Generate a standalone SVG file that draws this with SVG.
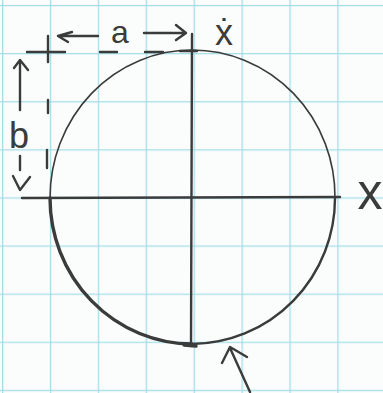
<svg xmlns="http://www.w3.org/2000/svg" width="383" height="393" viewBox="0 0 383 393">
<defs>
<pattern id="grid" x="2" y="5" width="47.9" height="48.1" patternUnits="userSpaceOnUse">
<path d="M0 0H47.9M0 0V48.1" fill="none" stroke="#a3dde9" stroke-width="2.6"/>
</pattern>
</defs>
<style>
.ink{fill:none;stroke:#3a3c3c;stroke-linecap:round;stroke-linejoin:round}
.thin{stroke-width:1.6}
.med{stroke-width:2.4}
.thick{stroke-width:3.4}
.lbl{font-family:"Liberation Sans",Arial,sans-serif;fill:#3a3c3c}
</style>
<rect width="383" height="393" fill="#fbfdfd"/>
<rect width="383" height="393" fill="url(#grid)"/>
<g id="circle">
<path class="ink thin" d="M192 50 A143 147 0 0 1 335 198"/>
<path class="ink med" d="M335 198 A144 146 0 0 1 192 344"/>
<path class="ink thick" d="M192 344 A143 146 0 0 1 50 198"/>
<path class="ink thin" d="M50 198 A142 148 0 0 1 192 50"/>
</g>
<g id="axes">
<path class="ink med" d="M22 198 L340 197"/>
<path class="ink med" d="M192 34 L191 346"/>
<path class="ink thick" d="M184 345 L196 346"/>
</g>
<g id="construction">
<path class="ink med" d="M27 52 H65 M100 52 H117 M145 52 H163"/>
<path class="ink med" d="M48 36 V62 M48 100 V113 M47 150 V168"/>
<path class="ink med" d="M180 51 H197"/>
</g>
<g id="dim-a">
<path class="ink med" d="M72 32 L58 36 L68 42 M60 36 H98"/>
<path class="ink med" d="M144 33 H184 M176 25 L186 33 L176 40"/>
<text class="lbl" x="120" y="43" font-size="32" text-anchor="middle">a</text>
</g>
<g id="dim-b">
<path class="ink med" d="M14 68 L20 60 L28 70 M20 62 V110"/>
<path class="ink med" d="M20 156 V170 M13 176 L20 190 L30 177"/>
<text class="lbl" x="19" y="148" font-size="36" text-anchor="middle">b</text>
</g>
<g id="labels">
<text class="lbl" x="224" y="45" font-size="36" text-anchor="middle">ẋ</text>
<text class="lbl" x="370" y="209" font-size="50" text-anchor="middle">x</text>
</g>
<g id="pointer">
<path class="ink med" d="M222 363 L230 347 L247 357 M230 348 L250 392"/>
</g>
</svg>
